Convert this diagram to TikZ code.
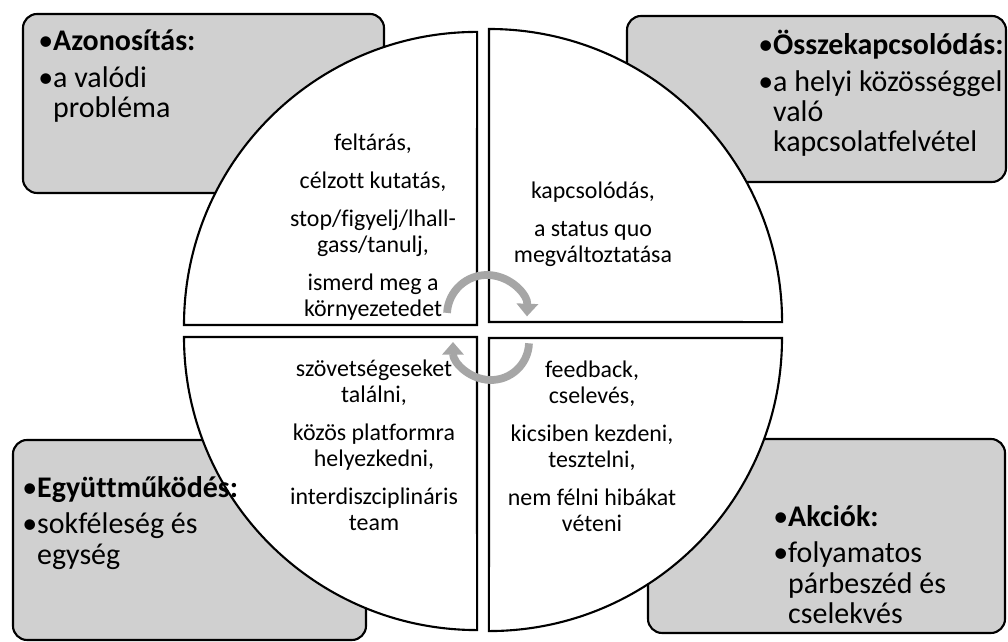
\documentclass[tikz,border=0pt]{standalone}
\usepackage{fontspec}
\setmainfont{Carlito}[Ligatures=NoCommon]
\usetikzlibrary{positioning,arrows.meta}
\definecolor{boxgray}{RGB}{208,208,208}
\definecolor{arrowgray}{RGB}{166,166,166}

\begin{document}
\begin{tikzpicture}[%
    x=0.025cm, y=0.025cm,
    >={Triangle[length=9pt,width=15pt]},
    outerbox/.style={%
      draw,
      line width=1.5pt,
      fill=boxgray,
      rounded corners=10pt
    },
    quarter/.style={%
      draw,
      line width=1.5pt,
      fill=white
    },
    cyclearrow/.style={%
      ->,
      draw=arrowgray,
      line width=5.5pt
    },
    innertext/.style={%
      align=center,
      inner sep=0pt,
      font=\fontsize{17}{18.5}\selectfont
    },
    outertext/.style={%
      align=left,
      inner sep=0pt,
      anchor=north west,
      font=\fontsize{21.3}{21.5}\selectfont
    }
  ]
  \useasboundingbox (0,0) rectangle (1008,642);
  % Boxes: 
    \draw[outerbox] (23,449)  rectangle (384,628);
    \draw[outerbox] (627,460) rectangle (1006,626);
    \draw[outerbox] (13,2)    rectangle (366,202);
    \draw[outerbox] (648,9)   rectangle (1005,203);
  % Quarters: 
    \draw[quarter] (477,317) -- (184,317) arc[start angle=180, end angle=90, radius=7.325cm] -- cycle;
    \draw[quarter] (489,320) -- (489,613) arc[start angle=90, end angle=0, radius=7.325cm] -- cycle;
    \draw[quarter] (477,305) -- (184,305) arc[start angle=180, end angle=270, radius=7.325cm] -- cycle;
    \draw[quarter] (489,304) -- (782,304) arc[start angle=0, end angle=-90, radius=7.325cm] -- cycle;
  % Arrows: 
    \draw[cyclearrow] (487,327) ++(177:1cm) arc[start angle=177, end angle=-2, radius=1cm];
    \draw[cyclearrow] (491,300) ++(-2:0.95cm) arc[start angle=-2, end angle=-180, radius=0.95cm];
  % Nodes: 
    \node[innertext] (explore)  at (373,415) {feltárás,\\[8.5pt]célzott kutatás,\\[8.5pt]stop/figyelj/lhall-\\gass/tanulj,\\[8.5pt]ismerd meg a\\környezetedet};
    \node[innertext] (connect)  at (593,418) {kapcsolódás,\\[8.5pt]a status quo\\megváltoztatása};
    \node[innertext] (allies)   at (374,197) {szövetségeseket\\találni,\\[8.5pt]közös platformra\\helyezkedni,\\[8.5pt]interdiszciplináris\\team};
    \node[innertext] (feedback) at (592,196) {feedback,\\cselevés,\\[8.5pt]kicsiben kezdeni,\\tesztelni,\\[8.5pt]nem félni hibákat\\véteni};
    \node[outertext] (ident)  at (38,612)  {•\textbf{Azonosítás:}\\[4.5pt]•a valódi\\\phantom{•}probléma};
    \node[outertext] (link)   at (758,612) {•\textbf{Összekapcsolódás:}\\[4.5pt]•a helyi közösséggel\\\phantom{•}való\\\phantom{•}kapcsolatfelvétel};
    \node[outertext] (coop)   at (22,166)  {•\textbf{Együttműködés:}\\[4.5pt]•sokféleség és\\\phantom{•}egység};
    \node[outertext] (action) at (773,137) {•\textbf{Akciók:}\\[4.5pt]•folyamatos\\\phantom{•}párbeszéd és\\\phantom{•}cselekvés};
\end{tikzpicture}
\end{document}
